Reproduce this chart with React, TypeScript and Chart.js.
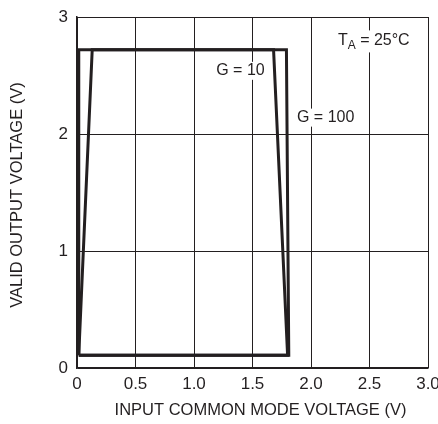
import React, { useEffect, useRef } from "react";
import { Chart, registerables } from "chart.js";

Chart.register(...registerables);

const xTicks = [0, 0.5, 1.0, 1.5, 2.0, 2.5, 3.0];
const xTickLabels = ["0", "0.5", "1.0", "1.5", "2.0", "2.5", "3.0"];
const yTicks = [0, 1, 2, 3];

const g10X = [0.015, 0.13, 1.68, 1.8, 0.015];
const g10Y = [0.11, 2.72, 2.72, 0.11, 0.11];
const g100X = [0.015, 0.015, 1.79, 1.81, 0.015];
const g100Y = [0.11, 2.72, 2.72, 0.11, 0.11];

const xTitle = "INPUT COMMON MODE VOLTAGE (V)";
const yTitle = "VALID OUTPUT VOLTAGE (V)";

const FONT = "'Liberation Sans Narrow', 'Liberation Sans', Arial, sans-serif";
const INK = "#231f20";

const toPts = (xs: number[], ys: number[]) => xs.map((x, i) => ({ x, y: ys[i] }));

const textPlugin = {
  id: "annot",
  afterDraw(chart: any) {
    const ctx = chart.ctx;
    const xs = chart.scales.x;
    const ys = chart.scales.y;
    const area = chart.chartArea;
    ctx.save();
    ctx.fillStyle = INK;
    ctx.font = `16.5px ${FONT}`;
    // x title
    ctx.textAlign = "center";
    ctx.textBaseline = "middle";
    ctx.fillText(xTitle, (area.left + area.right) / 2 + 8, 410);
    // y title
    ctx.save();
    ctx.translate(17.5, 195);
    ctx.rotate(-Math.PI / 2);
    ctx.fillText(yTitle, 0, 0);
    ctx.restore();

    ctx.font = `16px ${FONT}`;
    const label = (txt: string, vx: number, vy: number) => {
      const px = xs.getPixelForValue(vx);
      const py = ys.getPixelForValue(vy);
      const w = ctx.measureText(txt).width;
      ctx.fillStyle = "#ffffff";
      ctx.fillRect(px - 3, py - 9, w + 6, 18);
      ctx.fillStyle = INK;
      ctx.textAlign = "left";
      ctx.fillText(txt, px, py);
    };
    label("G = 10", 1.19, 2.54);
    label("G = 100", 1.88, 2.14);

    // T_A = 25°C
    const px = xs.getPixelForValue(2.23);
    const py = ys.getPixelForValue(2.8);
    ctx.textAlign = "left";
    const t1 = "T";
    const w1 = ctx.measureText(t1).width;
    ctx.font = `12px ${FONT}`;
    const wA = ctx.measureText("A").width;
    ctx.font = `16px ${FONT}`;
    const t2 = " = 25°C";
    const w2 = ctx.measureText(t2).width;
    ctx.fillStyle = "#ffffff";
    ctx.fillRect(px - 3, py - 10, w1 + wA + w2 + 6, 22);
    ctx.fillStyle = INK;
    ctx.fillText(t1, px, py);
    ctx.font = `12px ${FONT}`;
    ctx.fillText("A", px + w1, py + 5);
    ctx.font = `16px ${FONT}`;
    ctx.fillText(t2, px + w1 + wA, py);
    ctx.restore();
  },
};

export default function App() {
  const ref = useRef<HTMLCanvasElement>(null);
  useEffect(() => {
    if (!ref.current) return;
    const chart = new Chart(ref.current, {
      type: "scatter",
      data: {
        datasets: [
          {
            label: "G = 10",
            data: toPts(g10X, g10Y),
            showLine: true,
            borderColor: INK,
            borderWidth: 3,
            pointRadius: 0,
            fill: false,
          },
          {
            label: "G = 100",
            data: toPts(g100X, g100Y),
            showLine: true,
            borderColor: INK,
            borderWidth: 3,
            pointRadius: 0,
            fill: false,
          },
        ],
      },
      options: {
        responsive: false,
        animation: false,
        layout: { padding: { top: 17, right: 10, left: 0, bottom: 0 } },
        plugins: { legend: { display: false }, tooltip: { enabled: false } },
        scales: {
          x: {
            type: "linear",
            min: 0,
            max: 3,
            afterBuildTicks: (s: any) => {
              s.ticks = xTicks.map((v) => ({ value: v }));
            },
            afterFit: (s: any) => {
              s.height = 56;
              s.paddingLeft = 0;
              s.paddingRight = 0;
            },
            ticks: {
              color: INK,
              font: { family: FONT, size: 17 },
              padding: 6,
              maxRotation: 0,
              callback: (v: any) => {
                const i = xTicks.indexOf(Number(v));
                return i >= 0 ? xTickLabels[i] : "";
              },
            },
            grid: { color: INK, lineWidth: 1, drawTicks: false },
            border: { color: INK, width: 1.5 },
          },
          y: {
            type: "linear",
            min: 0,
            max: 3,
            afterBuildTicks: (s: any) => {
              s.ticks = yTicks.map((v) => ({ value: v }));
            },
            afterFit: (s: any) => {
              s.width = 77;
              s.paddingTop = 0;
              s.paddingBottom = 0;
            },
            ticks: {
              color: INK,
              font: { family: FONT, size: 17 },
              padding: 9,
            },
            grid: { color: INK, lineWidth: 1, drawTicks: false },
            border: { color: INK, width: 1.5 },
          },
        },
      },
      plugins: [textPlugin],
    } as any);
    return () => chart.destroy();
  }, []);
  return (
    <div style={{ position: "fixed", left: 0, top: 0, width: 438, height: 424, background: "#fff" }}>
      <canvas ref={ref} width={438} height={424} style={{ display: "block" }} />
    </div>
  );
}
